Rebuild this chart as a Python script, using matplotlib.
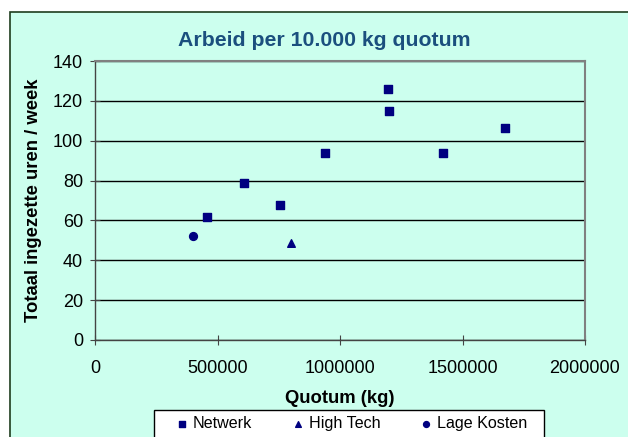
import matplotlib.pyplot as plt
from matplotlib.patches import Rectangle

plt.rcParams['font.family'] = ['Liberation Sans', 'DejaVu Sans']

netwerk_x = [455800, 608700, 757000, 938000, 1195000, 1199000, 1419000, 1672000]
netwerk_y = [61.5, 78.6, 67.6, 93.6, 126.2, 115.0, 93.6, 106.3]
hightech_x = [802000]
hightech_y = [48.6]
lagekosten_x = [401000]
lagekosten_y = [52.1]

mint = "#ccffee"
navy = "#000080"

W, H = 628, 437
fig = plt.figure(figsize=(W / 100, H / 100), dpi=100)
fig.patch.set_facecolor("white")

# chart area with dark border (cut off on right and bottom)
bg = Rectangle((10 / W, -0.05), 1.0, 1 - 12 / H + 0.05,
               transform=fig.transFigure, facecolor=mint,
               edgecolor="#1e3d1e", linewidth=1.2, zorder=-5)
fig.add_artist(bg)

# legend box, runs off the bottom edge like the original
legbox = Rectangle((154 / W, -0.05), (544 - 154) / W, 1 - 410 / H + 0.05,
                   transform=fig.transFigure, facecolor="white",
                   edgecolor="black", linewidth=1, zorder=1)
fig.add_artist(legbox)

ax = fig.add_axes([95 / W, 1 - 340 / H, (585 - 95) / W, (340 - 61) / H])
ax.set_facecolor(mint)

ax.scatter(netwerk_x, netwerk_y, marker="s", s=32, color=navy, label="Netwerk", zorder=3)
ax.scatter(hightech_x, hightech_y, marker="^", s=30, color=navy, label="High Tech", zorder=3)
ax.scatter(lagekosten_x, lagekosten_y, marker="o", s=32, color=navy, label="Lage Kosten", zorder=3)

ax.set_xlim(0, 2000000)
ax.set_ylim(0, 140)
ax.set_xticks([0, 500000, 1000000, 1500000, 2000000])
ax.set_xticklabels(["0", "500000", "1000000", "1500000", "2000000"])
ax.set_yticks(range(0, 141, 20))
ax.yaxis.grid(True, color="black", linewidth=1)
ax.set_axisbelow(True)
ax.tick_params(labelsize=13, color="#444444")
ax.tick_params(axis="x", direction="inout", length=7, pad=11)
ax.tick_params(axis="y", direction="inout", length=7, pad=5)

for side in ["top", "right"]:
    ax.spines[side].set_color("#808080")
    ax.spines[side].set_linewidth(1.5)
for side in ["left", "bottom"]:
    ax.spines[side].set_color("#444444")
    ax.spines[side].set_linewidth(1)

ax.set_xlabel("Quotum (kg)", fontsize=13.3, fontweight="bold", labelpad=9)
ax.set_ylabel("Totaal ingezette uren / week", fontsize=13.3, fontweight="bold", labelpad=8)

fig.text(324 / W, 1 - 40 / H, "Arbeid per 10.000 kg quotum", ha="center", va="center",
         fontsize=15.3, fontweight="bold", color="#1b4f7e")

leg = fig.legend(loc="upper left", bbox_to_anchor=(172 / W, 1 - 416 / H), ncol=3,
                 fontsize=11.6, frameon=False, handletextpad=0.08,
                 columnspacing=2.25, markerscale=0.75, handlelength=1.2,
                 borderpad=0, borderaxespad=0)
leg.set_zorder(2)

fig.savefig("out.png", dpi=100, facecolor=fig.get_facecolor())
